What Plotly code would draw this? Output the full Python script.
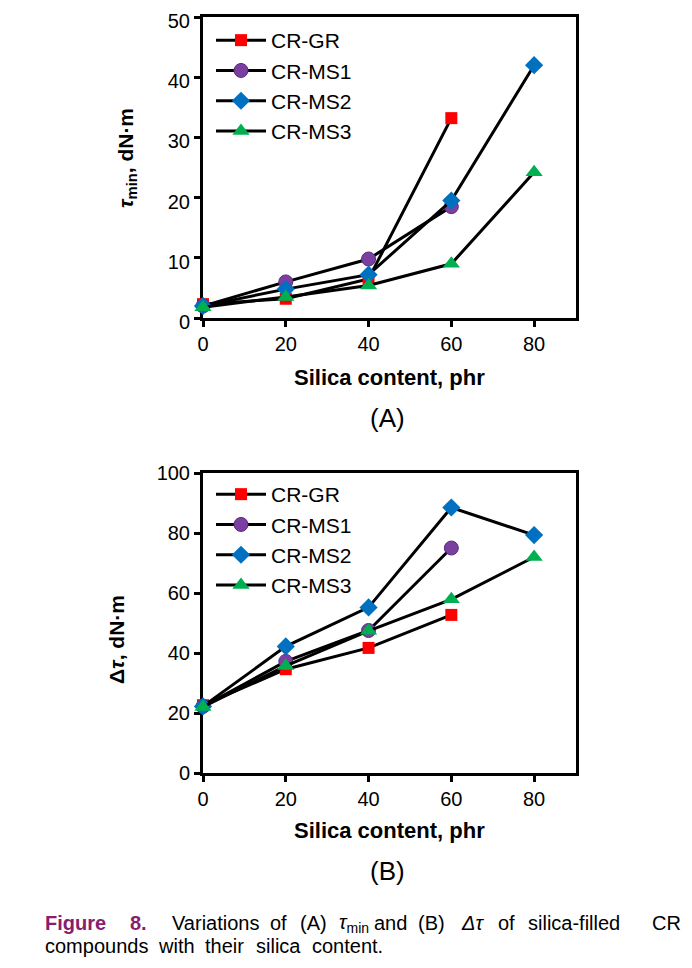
import plotly.graph_objects as go

W, H = 692, 968

silica = [0, 20, 40, 60, 80]
series_names = ["CR-GR", "CR-MS1", "CR-MS2", "CR-MS3"]

# (A) tau_min, dN.m
tmin_gr = [2.3, 3.2, 6.5, 33.2]
tmin_ms1 = [2.0, 6.0, 9.8, 18.5]
tmin_ms2 = [2.0, 4.8, 7.2, 19.5, 42.0]
tmin_ms3 = [1.8, 3.5, 5.4, 9.0, 24.2]

# (B) delta tau, dN.m
dt_gr = [22.6, 34.6, 41.7, 52.7]
dt_ms1 = [22.2, 37.2, 47.5, 75.0]
dt_ms2 = [22.2, 42.2, 55.2, 88.5, 79.3]
dt_ms3 = [22.0, 35.7, 47.4, 57.9, 72.0]

x_ticks = [0, 20, 40, 60, 80]
yA_ticks = [0, 10, 20, 30, 40, 50]
yB_ticks = [0, 20, 40, 60, 80, 100]

styles = {
    "CR-GR": dict(symbol="square", size=12, color="#FF0000", line=dict(width=0)),
    "CR-MS1": dict(symbol="circle", size=14, color="#7A3FA0", line=dict(width=1, color="#5A2C7C")),
    "CR-MS2": dict(symbol="diamond", size=14, color="#0070C0", line=dict(width=0)),
    "CR-MS3": dict(symbol="triangle-up", size=15, color="#00B050", line=dict(width=0)),
}

FONT = "Liberation Sans, Arial, sans-serif"
fig = go.Figure()

dataA = [tmin_gr, tmin_ms1, tmin_ms2, tmin_ms3]
dataB = [dt_gr, dt_ms1, dt_ms2, dt_ms3]
for name, ys in zip(series_names, dataA):
    fig.add_trace(go.Scatter(
        x=silica[:len(ys)], y=ys, name=name, mode="lines+markers",
        line=dict(color="black", width=3), marker=styles[name],
        xaxis="x", yaxis="y", legend="legend", cliponaxis=False,
        legendgroup="A" + name))
for name, ys in zip(series_names, dataB):
    fig.add_trace(go.Scatter(
        x=silica[:len(ys)], y=ys, name=name, mode="lines+markers",
        line=dict(color="black", width=3), marker=styles[name],
        xaxis="x2", yaxis="y2", legend="legend2", cliponaxis=False,
        legendgroup="B" + name))

# the page offsets the figure by 8 px (body margin); positions below are screen pixels
OFF = 8

def px_x(p):
    return (p - OFF) / W

def px_y(p):
    return 1 - (p - OFF) / H

axis_common = dict(
    showline=True, linecolor="black", linewidth=3, mirror=True,
    ticks="outside", ticklen=6, tickwidth=3, tickcolor="black",
    showgrid=False, zeroline=False, layer="below traces", automargin=False,
    ticklabeloverflow="allow",
    tickfont=dict(family=FONT, size=20, color="black"),
)

fig.update_layout(
    width=W, height=H, autosize=False,
    margin=dict(l=0, r=0, t=0, b=0, pad=0, autoexpand=False),
    paper_bgcolor="white", plot_bgcolor="white",
    font=dict(family=FONT, color="black"),
    xaxis=dict(domain=[px_x(203), px_x(575.5)], range=[0, 90], tickvals=x_ticks,
               anchor="y", **axis_common),
    yaxis=dict(domain=[px_y(318), px_y(17)], range=[0, 50], tickvals=yA_ticks,
               anchor="x", ticklabelshift=4, **axis_common),
    xaxis2=dict(domain=[px_x(203), px_x(575.5)], range=[0, 90], tickvals=x_ticks,
                anchor="y2", **axis_common),
    yaxis2=dict(domain=[px_y(773), px_y(473)], range=[0, 100], tickvals=yB_ticks,
                anchor="x2", **axis_common),
    legend=dict(x=px_x(211), y=px_y(20), xanchor="left", yanchor="top",
                bgcolor="rgba(0,0,0,0)", font=dict(family=FONT, size=21),
                tracegroupgap=0, itemwidth=50),
    legend2=dict(x=px_x(211), y=px_y(474), xanchor="left", yanchor="top",
                 bgcolor="rgba(0,0,0,0)", font=dict(family=FONT, size=21),
                 tracegroupgap=0, itemwidth=50),
    showlegend=True,
)

ann = []
ann.append(dict(text="<b><i>τ</i><sub>min</sub>, dN·m</b>", x=px_x(127), y=px_y(158),
                textangle=-90, font=dict(size=21)))
ann.append(dict(text="<b>Δ<i>τ</i>, dN·m</b>", x=px_x(116), y=px_y(640),
                textangle=-90, font=dict(size=21)))
ann.append(dict(text="<b>Silica content, phr</b>", x=px_x(389), y=px_y(377),
                font=dict(size=22)))
ann.append(dict(text="<b>Silica content, phr</b>", x=px_x(389), y=px_y(830),
                font=dict(size=22)))
ann.append(dict(text="(A)", x=px_x(387), y=px_y(418), font=dict(size=26)))
ann.append(dict(text="(B)", x=px_x(387), y=px_y(871), font=dict(size=26)))
for a in ann:
    a.update(xref="paper", yref="paper", showarrow=False, xanchor="center", yanchor="middle")
    a["font"].update(family=FONT, color="black")

cap_words = [
    ("<b>Figure</b>", 43, "#8B1C6C"),
    ("<b>8.</b>", 128, "#8B1C6C"),
    ("Variations", 170, "black"),
    ("of", 268, "black"),
    ("(A)", 298, "black"),
    ("<i>τ</i><sub>min</sub>", 337, "black"),
    ("and", 372, "black"),
    ("(B)", 416, "black"),
    ("<i>Δτ</i>", 459, "black"),
    ("of", 496, "black"),
    ("silica-filled", 526, "black"),
    ("CR", 650, "black"),
]
for txt, xp, col in cap_words:
    fig.add_annotation(text=txt, x=px_x(xp), y=px_y(923), xref="paper", yref="paper",
                       showarrow=False, xanchor="left", yanchor="middle",
                       font=dict(family=FONT, size=20, color=col))
cap2_words = [("compounds", 43), ("with", 156), ("their", 203), ("silica", 254), ("content.", 310)]
for txt, xp in cap2_words:
    fig.add_annotation(text=txt, x=px_x(xp), y=px_y(946),
                       xref="paper", yref="paper", showarrow=False, xanchor="left",
                       yanchor="middle", font=dict(family=FONT, size=20, color="black"))
for a in ann:
    fig.add_annotation(**a)

fig.write_html("out.html")
